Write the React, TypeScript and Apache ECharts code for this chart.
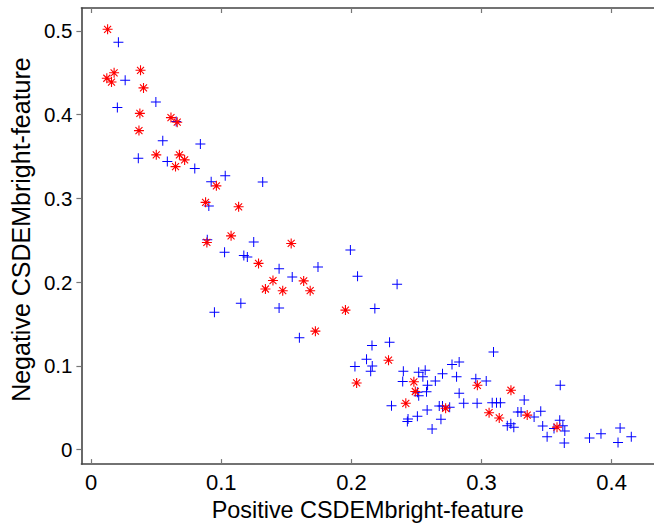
import React, { useEffect, useRef } from "react";
import * as echarts from "echarts";

const X_TICKS = [0, 0.1, 0.2, 0.3, 0.4];
const Y_TICKS = [0, 0.1, 0.2, 0.3, 0.4, 0.5];

const X_TITLE = "Positive CSDEMbright-feature";
const Y_TITLE = "Negative CSDEMbright-feature";

// blue "+" points [positive, negative]
const bluePoints: number[][] = [
  [0.0209, 0.4866], [0.0261, 0.441], [0.0201, 0.4086], [0.0497, 0.415],
  [0.0362, 0.348], [0.055, 0.369], [0.0585, 0.344], [0.0839, 0.365],
  [0.0796, 0.3357], [0.0653, 0.392], [0.103, 0.327], [0.0922, 0.32],
  [0.1318, 0.3195], [0.0904, 0.291], [0.0892, 0.2506], [0.1025, 0.2356],
  [0.1249, 0.2478], [0.1173, 0.2318], [0.12, 0.2301], [0.115, 0.1748],
  [0.0947, 0.1639], [0.1444, 0.216], [0.1743, 0.218], [0.1992, 0.2384],
  [0.1545, 0.2062], [0.2047, 0.207], [0.2351, 0.1976], [0.1444, 0.169],
  [0.218, 0.1686], [0.16, 0.1337], [0.2158, 0.1243], [0.2293, 0.1282],
  [0.2116, 0.1078], [0.2027, 0.0992], [0.216, 0.1], [0.2148, 0.0937],
  [0.2399, 0.0937], [0.2394, 0.0812], [0.2517, 0.0925], [0.2567, 0.0948],
  [0.2549, 0.0871], [0.2585, 0.0768], [0.2645, 0.0819], [0.27, 0.0906],
  [0.2773, 0.1015], [0.2828, 0.1047], [0.2808, 0.0871], [0.3092, 0.1165],
  [0.2956, 0.0847], [0.3036, 0.0819], [0.2507, 0.0685], [0.2517, 0.0642],
  [0.2577, 0.069], [0.2828, 0.0674], [0.2308, 0.0525], [0.2435, 0.0365],
  [0.243, 0.0336], [0.2507, 0.0398], [0.2582, 0.0474], [0.262, 0.0247],
  [0.2675, 0.0522], [0.27, 0.0522], [0.2755, 0.0506], [0.2688, 0.0362],
  [0.2863, 0.0553], [0.2966, 0.0553], [0.3082, 0.056], [0.3115, 0.056],
  [0.3145, 0.056], [0.3328, 0.0592], [0.3279, 0.045], [0.3304, 0.045],
  [0.3404, 0.039], [0.3455, 0.0459], [0.3225, 0.031], [0.3198, 0.0284],
  [0.3248, 0.0266], [0.347, 0.0282], [0.3504, 0.0155], [0.3601, 0.0352],
  [0.3557, 0.0253], [0.3625, 0.0284], [0.364, 0.0222], [0.3636, 0.0078],
  [0.3605, 0.0768], [0.383, 0.014], [0.3918, 0.019], [0.4049, 0.0085],
  [0.4065, 0.0258], [0.4151, 0.0155],
];

// red "*" points [positive, negative]
const redPoints: number[][] = [
  [0.0126, 0.502], [0.012, 0.4435], [0.0176, 0.45], [0.0156, 0.439],
  [0.0379, 0.453], [0.0402, 0.432], [0.0374, 0.4015], [0.0367, 0.381],
  [0.05, 0.352], [0.0613, 0.3965], [0.0661, 0.391], [0.0678, 0.352],
  [0.0718, 0.346], [0.0648, 0.338], [0.0962, 0.315], [0.0879, 0.2953],
  [0.1133, 0.29], [0.0889, 0.2474], [0.1075, 0.2553], [0.1286, 0.2224],
  [0.1537, 0.2462], [0.1397, 0.2019], [0.1633, 0.2015], [0.1339, 0.1918],
  [0.1472, 0.1898], [0.1683, 0.1898], [0.1954, 0.1666], [0.1723, 0.1415],
  [0.2285, 0.1068], [0.204, 0.0796], [0.248, 0.081], [0.2491, 0.0694],
  [0.2418, 0.0553], [0.2724, 0.0494], [0.2968, 0.0768], [0.3226, 0.0709],
  [0.3058, 0.0441], [0.3136, 0.0378], [0.3351, 0.0412], [0.358, 0.0268],
];

const PLUS =
  "path://M4.5,0H5.5V10H4.5Z M0,4.5H10V5.5H0Z";
const STAR =
  "path://M4.45,0H5.55V10H4.45Z M0,4.45H10V5.55H0Z " +
  "M1.89,1.11L8.89,8.11L8.11,8.89L1.11,1.89Z " +
  "M8.89,1.89L1.89,8.89L1.11,8.11L8.11,1.11Z";

const FONT = "Liberation Sans, Arial, Helvetica, sans-serif";
const AXIS_COLOR = "#444444";
const TICK_COLOR = "#777777";

const GRID_LEFT = 76;
const GRID_TOP = 8;
const GRID_W = 584;
const GRID_H = 463;

export default function App() {
  const ref = useRef<HTMLDivElement>(null);

  useEffect(() => {
    if (!ref.current) return;
    const chart = echarts.init(ref.current, undefined, { renderer: "svg" });
    const xMin = -0.00754;
    const xMax = 0.43255;
    const yMin = -0.0173;
    const yMax = 0.5274;
    const tickCommon = {
      show: true,
      length: 5,
      lineStyle: { color: TICK_COLOR, width: 1.2 },
    };
    const lineCommon = {
      show: true,
      onZero: false,
      lineStyle: { color: AXIS_COLOR, width: 1.6 },
    };
    chart.setOption({
      animation: false,
      backgroundColor: "#ffffff",
      grid: {
        left: GRID_LEFT,
        top: GRID_TOP,
        width: GRID_W,
        height: GRID_H,
      },
      xAxis: [
        {
          type: "value",
          position: "bottom",
          min: xMin,
          max: xMax,
          axisLine: lineCommon,
          axisTick: { ...tickCommon, inside: true, customValues: X_TICKS },
          axisLabel: {
            customValues: X_TICKS,
            fontSize: 22,
            fontFamily: FONT,
            color: "#000",
            margin: 7,
          },
          splitLine: { show: false },
          name: X_TITLE,
          nameLocation: "middle",
          nameGap: 31,
          nameTextStyle: { fontSize: 23.4, fontFamily: FONT, color: "#000" },
        },
        {
          type: "value",
          position: "top",
          min: xMin,
          max: xMax,
          axisLine: lineCommon,
          axisTick: { ...tickCommon, inside: true, customValues: X_TICKS },
          axisLabel: { show: false },
          splitLine: { show: false },
        },
      ],
      yAxis: [
        {
          type: "value",
          position: "left",
          min: yMin,
          max: yMax,
          axisLine: lineCommon,
          axisTick: { ...tickCommon, inside: false, customValues: Y_TICKS },
          axisLabel: {
            customValues: Y_TICKS,
            fontSize: 20.5,
            fontFamily: FONT,
            color: "#000",
            margin: 9,
          },
          splitLine: { show: false },
          name: Y_TITLE,
          nameLocation: "middle",
          nameGap: 39,
          nameRotate: 90,
          nameTextStyle: {
            fontSize: 25,
            fontFamily: FONT,
            color: "#000",
            padding: [0, 0, 0, 13],
          },
        },
      ],
      series: [
        {
          type: "scatter",
          xAxisIndex: 0,
          yAxisIndex: 0,
          data: bluePoints,
          symbol: PLUS,
          symbolSize: 10,
          silent: true,
          itemStyle: { color: "#0000ff", opacity: 1 },
          emphasis: { disabled: true },
        },
        {
          type: "scatter",
          xAxisIndex: 0,
          yAxisIndex: 0,
          data: redPoints,
          symbol: STAR,
          symbolSize: 10,
          silent: true,
          itemStyle: { color: "#ff0000", opacity: 1 },
          emphasis: { disabled: true },
        },
      ],
    });
    return () => chart.dispose();
  }, []);

  return (
    <div
      ref={ref}
      style={{ position: "absolute", left: 0, top: 0, width: 654, height: 526 }}
    />
  );
}
